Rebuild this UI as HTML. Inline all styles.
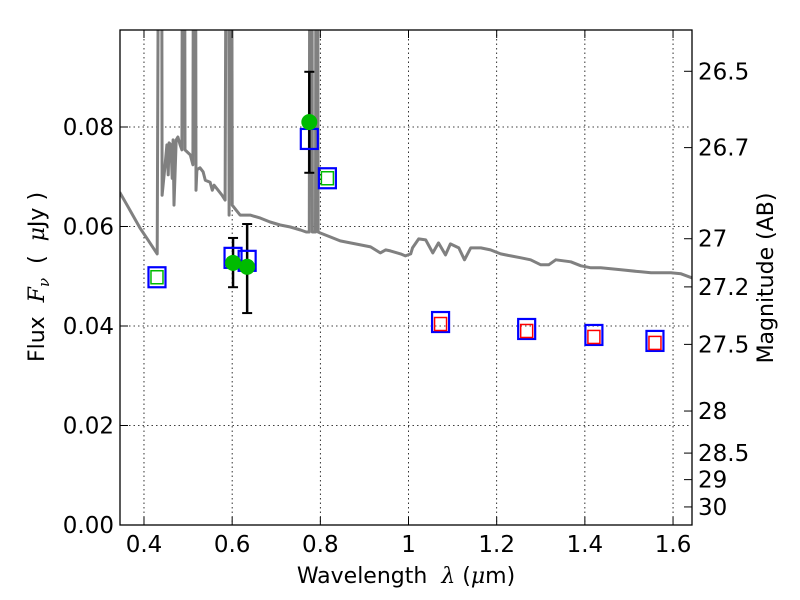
<!DOCTYPE html>
<html><head><meta charset="utf-8"><style>
html,body{margin:0;padding:0;background:#fff;}
svg{display:block;font-family:"DejaVu Sans","Liberation Sans",sans-serif;}
</style></head><body>
<svg id="chart" width="800" height="600" viewBox="0 0 800 600" xmlns="http://www.w3.org/2000/svg">
<defs><clipPath id="plotclip"><rect x="120" y="30" width="572" height="495"/></clipPath></defs>
<rect x="0" y="0" width="800" height="600" fill="#fff"/>
<g id="grid"></g>
<g id="spec" clip-path="url(#plotclip)"></g>
<g id="marks" clip-path="url(#plotclip)"></g>
<rect x="120" y="30" width="572" height="495" fill="none" stroke="#000" stroke-width="1.3"/>
<g id="axes"></g>
<text x="406" y="583" font-size="22" text-anchor="middle" xml:space="preserve">Wavelength  <tspan font-family="DejaVu Serif,serif" font-style="italic">λ</tspan> (<tspan font-family="DejaVu Serif,serif" font-style="italic">μ</tspan>m)</text>
<text transform="translate(44,277) rotate(-90)" font-size="22" text-anchor="middle" xml:space="preserve">Flux  <tspan font-family="DejaVu Serif,serif" font-style="italic">F<tspan font-size="15" dy="5">ν</tspan></tspan><tspan dy="-5">  (  </tspan><tspan font-family="DejaVu Serif,serif" font-style="italic">μ</tspan>Jy )</text>
<text transform="translate(773,278) rotate(-90)" font-size="22" text-anchor="middle">Magnitude (AB)</text>
</svg>
<script>
const xTicks=[0.4,0.6,0.8,1.0,1.2,1.4,1.6];
const xTickLabels=["0.4","0.6","0.8","1","1.2","1.4","1.6"];
const yTicks=[0,0.02,0.04,0.06,0.08];
const yTickLabels=["0.00","0.02","0.04","0.06","0.08"];
const magTicks=[26.5,26.7,27,27.2,27.5,28,28.5,29,30];
const magTickLabels=["26.5","26.7","27","27.2","27.5","28","28.5","29","30"];
const specLam=[.345,.368,.391,.409,.430,.436,.439,.441,.448,.452,.455,.457,.461,.464,.466,.468,.473,.477,.482,.486,.489,.491,.493,.505,.511,.514,.516,.518,.520,.527,.534,.539,.550,.555,.559,.568,.577,.584,.589,.591,.593,.595,.598,.600,.609,.618,.641,.664,.686,.709,.732,.755,.768,.775,.777,.780,.782,.789,.791,.793,.795,.800,.823,.845,.868,.891,.914,.936,.948,.959,.982,.993,1.005,1.009,1.023,1.039,1.055,1.068,1.084,1.095,1.114,1.127,1.141,1.164,1.186,1.209,1.232,1.255,1.277,1.300,1.318,1.334,1.368,1.391,1.414,1.436,1.459,1.482,1.527,1.550,1.595,1.618,1.645];
const specFlux=[.0669,.0633,.0597,.0573,.0545,.2,.2,.0663,.0724,.0764,.0704,.0768,.0764,.0697,.0774,.0643,.0774,.0780,.0764,.0754,.2,.2,.0754,.0744,.0724,.2,.2,.0673,.0714,.0718,.0710,.0693,.0689,.0673,.0683,.0673,.0663,.0653,.2,.2,.0623,.2,.2,.0643,.0633,.0623,.0623,.0617,.0609,.0603,.0599,.0593,.0589,.0589,.2,.2,.0589,.0589,.2,.2,.0589,.0587,.0579,.0571,.0567,.0563,.0559,.0547,.0553,.0551,.0545,.0541,.0545,.0557,.0575,.0573,.0547,.0567,.0543,.0565,.0557,.0533,.0557,.0557,.0553,.0545,.0541,.0537,.0533,.0523,.0523,.0533,.0529,.0521,.0517,.0517,.0515,.0513,.0509,.0507,.0507,.0505,.0496];
const obsLam=[0.602,0.634,0.775];
const obsFlux=[0.0527,0.0519,0.0810];
const obsErrLo=[0.0478,0.0426,0.0708];
const obsErrHi=[0.0577,0.0605,0.0911];
const modLam=[0.4295,0.602,0.634,0.775,0.816,1.0727,1.268,1.4205,1.559];
const modFlux=[0.0498,0.0537,0.0531,0.0776,0.0697,0.0408,0.0394,0.0382,0.0370];
const innerLam=[0.4295,0.816,1.0727,1.268,1.4205,1.559];
const innerFlux=[0.0498,0.0697,0.0404,0.0390,0.0378,0.0366];
const innerColor=["#00bb00","#00bb00","red","red","red","red"];

const X0=120,X1=692,Y0=525,Y1=30,LMIN=0.3456,LMAX=1.643,FMIN=0,FMAX=0.0995;
const sx=v=>X0+(v-LMIN)/(LMAX-LMIN)*(X1-X0);
const sy=v=>Y0-(v-FMIN)/(FMAX-FMIN)*(Y0-Y1);
const magToFlux=m=>Math.pow(10,(23.9-m)/2.5);
const NS="http://www.w3.org/2000/svg";
function mk(tag,attrs,parent){const e=document.createElementNS(NS,tag);for(const k in attrs)e.setAttribute(k,attrs[k]);parent.appendChild(e);return e;}
const grid=document.getElementById('grid'),axes=document.getElementById('axes'),spec=document.getElementById('spec'),marks=document.getElementById('marks');

xTicks.forEach((t,i)=>{const x=sx(t);
 const g=mk('line',{x1:x,x2:x,y1:Y1,y2:Y0,stroke:'#000','stroke-width':0.8,'stroke-dasharray':'1.5,3'},grid);
 
 
 mk('line',{x1:x,x2:x,y1:Y0,y2:Y0-8,stroke:'#000','stroke-width':1},axes);
 mk('line',{x1:x,x2:x,y1:Y1,y2:Y1+8,stroke:'#000','stroke-width':1},axes);
 const tx=mk('text',{x:x,y:Y0+27,'font-size':23,'text-anchor':'middle'},axes);tx.textContent=xTickLabels[i];
 
 
});
yTicks.forEach((t,i)=>{const y=sy(t);
 if(t>0){const g=mk('line',{x1:X0,x2:X1,y1:y,y2:y,stroke:'#000','stroke-width':0.8,'stroke-dasharray':'1.5,3'},grid);
 
 }
 mk('line',{x1:X0,x2:X0+8,y1:y,y2:y,stroke:'#000','stroke-width':1},axes);
 const tx=mk('text',{x:X0-6,y:y+8,'font-size':23,'text-anchor':'end'},axes);tx.textContent=yTickLabels[i];
 
 
});
magTicks.forEach((m,i)=>{const y=sy(magToFlux(m));
 mk('line',{x1:X1,x2:X1-8,y1:y,y2:y,stroke:'#000','stroke-width':1},axes);
 const tx=mk('text',{x:X1+6,y:y+8,'font-size':23},axes);tx.textContent=magTickLabels[i];
 
 
});

const d=specLam.map((l,i)=>(i?'L':'M')+sx(l).toFixed(1)+','+sy(specFlux[i]).toFixed(1)).join(' ');
const sp=mk('path',{d:d,fill:'none',stroke:'#808080','stroke-width':3,'stroke-linejoin':'round'},spec);



obsLam.forEach((l,i)=>{const x=sx(l);
 const e=mk('g',{},marks);
 
 
 mk('line',{x1:x,x2:x,y1:sy(obsErrLo[i]),y2:sy(obsErrHi[i]),stroke:'#000','stroke-width':2.5},e);
 mk('line',{x1:x-5,x2:x+5,y1:sy(obsErrLo[i]),y2:sy(obsErrLo[i]),stroke:'#000','stroke-width':2},e);
 mk('line',{x1:x-5,x2:x+5,y1:sy(obsErrHi[i]),y2:sy(obsErrHi[i]),stroke:'#000','stroke-width':2},e);
});
modLam.forEach((l,i)=>{
 const r=mk('rect',{x:sx(l)-8.5,y:sy(modFlux[i])-10,width:17,height:20,fill:'none',stroke:'#0000ff','stroke-width':2.2},marks);
 
 
});
innerLam.forEach((l,i)=>{
 const r=mk('rect',{x:sx(l)-6,y:sy(innerFlux[i])-6.5,width:12,height:13,fill:'none',stroke:innerColor[i],'stroke-width':1.5},marks);
 
 
});
obsLam.forEach((l,i)=>{
 const c=mk('circle',{cx:sx(l),cy:sy(obsFlux[i]),r:8,fill:'#00bb00'},marks);
 
 
});
</script>
</body></html>
